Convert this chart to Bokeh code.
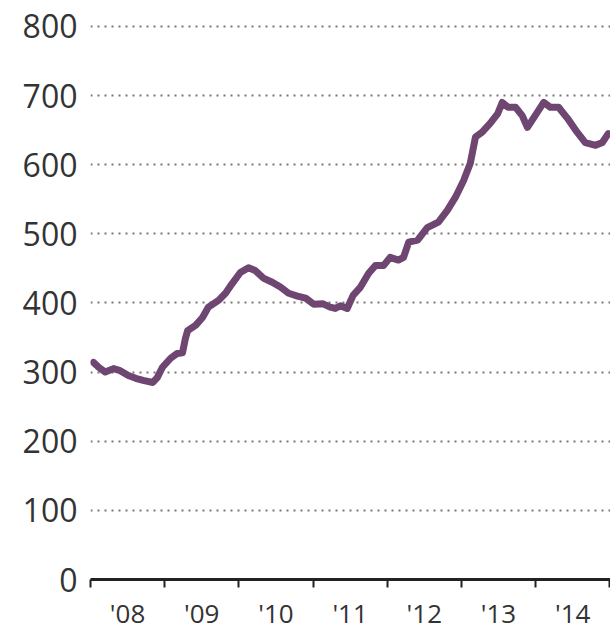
from bokeh.plotting import figure
from bokeh.models import FixedTicker, Range1d
from bokeh.embed import file_html
from bokeh.resources import INLINE

# Data (decimal year, value)
years = [2008.04, 2008.11, 2008.20, 2008.31, 2008.40, 2008.51, 2008.61, 2008.71,
         2008.84, 2008.90, 2008.97, 2009.08, 2009.17, 2009.24, 2009.28, 2009.31,
         2009.42, 2009.51, 2009.59, 2009.73, 2009.82, 2009.91, 2010.02, 2010.13,
         2010.22, 2010.33, 2010.45, 2010.56, 2010.67, 2010.79, 2010.90, 2011.01,
         2011.13, 2011.23, 2011.30, 2011.37, 2011.46, 2011.54, 2011.64, 2011.75,
         2011.84, 2011.95, 2012.04, 2012.15, 2012.22, 2012.29, 2012.41, 2012.54,
         2012.69, 2012.81, 2012.92, 2013.03, 2013.12, 2013.19, 2013.28, 2013.39,
         2013.49, 2013.55, 2013.63, 2013.73, 2013.82, 2013.89, 2013.97, 2014.11,
         2014.20, 2014.31, 2014.43, 2014.56, 2014.67, 2014.81, 2014.90, 2014.98]
values = [314, 307, 300, 305, 302, 295, 291, 288,
          285, 292, 307, 320, 327, 328, 349, 360,
          368, 379, 394, 404, 414, 428, 444, 451,
          447, 436, 430, 423, 414, 410, 407, 398,
          399, 394, 392, 396, 392, 411, 423, 443,
          454, 454, 466, 462, 466, 488, 491, 509,
          517, 534, 553, 577, 602, 640, 647, 660,
          674, 690, 683, 683, 671, 654, 667, 690,
          683, 683, 667, 647, 632, 628, 632, 645]

year_ticks = [2008, 2009, 2010, 2011, 2012, 2013, 2014, 2015]
year_label_pos = [2008.5, 2009.5, 2010.5, 2011.5, 2012.5, 2013.5, 2014.5]
year_labels = ["'08", "'09", "'10", "'11", "'12", "'13", "'14"]
y_ticks = [0, 100, 200, 300, 400, 500, 600, 700, 800]

p = figure(width=610, height=638, output_backend="svg", toolbar_location=None,
           x_range=Range1d(2008, 2015.01), y_range=Range1d(0, 823),
           min_border_left=90, min_border_right=0, min_border_top=10,
           min_border_bottom=59)
p.outline_line_color = None
p.background_fill_color = "white"
p.border_fill_color = "white"

p.line(years, values, line_color="#6f4671", line_width=7,
       line_join="round", line_cap="round")

# Y axis
p.yaxis.ticker = FixedTicker(ticks=y_ticks)
p.yaxis.axis_line_color = None
p.yaxis.major_tick_line_color = None
p.yaxis.minor_tick_line_color = None
p.yaxis.major_label_text_font = "Open Sans"
p.yaxis.major_label_text_font_size = "32px"
p.yaxis.major_label_text_color = "#333333"
p.yaxis.major_label_standoff = 7

# Grid
p.xgrid.grid_line_color = None
p.ygrid.ticker = FixedTicker(ticks=y_ticks[1:])
p.ygrid.grid_line_color = "#777777"
p.ygrid.grid_line_width = 2
p.ygrid.grid_line_dash = "2 5"

# X axis
p.xaxis.ticker = FixedTicker(ticks=year_label_pos, minor_ticks=year_ticks)
p.xaxis.major_label_overrides = {pos: lab for pos, lab in zip(year_label_pos, year_labels)}
p.xaxis.axis_line_width = 3
p.xaxis.axis_line_color = "#222222"
p.xaxis.major_tick_line_color = None
p.xaxis.minor_tick_line_color = "#222222"
p.xaxis.minor_tick_line_width = 2
p.xaxis.minor_tick_out = 8
p.xaxis.minor_tick_in = 0
p.xaxis.major_tick_out = 0
p.xaxis.major_tick_in = 0
p.xaxis.major_label_text_font = "Open Sans"
p.xaxis.major_label_text_font_size = "26px"
p.xaxis.major_label_text_color = "#333333"
p.xaxis.major_label_standoff = 7

open("out.html", "w").write(file_html(p, INLINE))
